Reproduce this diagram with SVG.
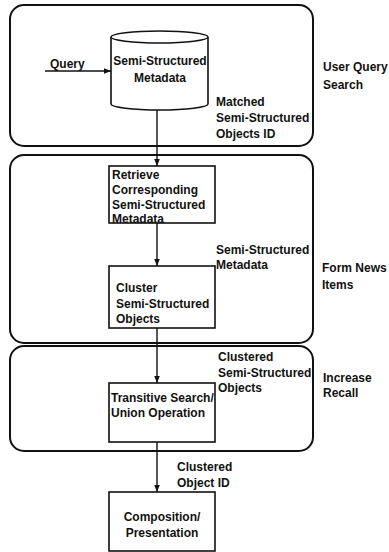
<svg xmlns="http://www.w3.org/2000/svg" width="389" height="552" viewBox="0 0 389 552">
<defs>
<style>
text{font-family:"Liberation Sans",Arial,sans-serif;font-weight:bold;font-size:12px;fill:#111}
.grp{fill:none;stroke:#111;stroke-width:2}
.box{fill:#fff;stroke:#111;stroke-width:1.6}
.edge{stroke:#111;stroke-width:1.4;fill:none}
</style>
<marker id="ah" viewBox="0 0 10 10" refX="10" refY="5" markerWidth="7" markerHeight="7" markerUnits="userSpaceOnUse" orient="auto">
<path d="M0,1 L10,5 L0,9 Z" fill="#111"/>
</marker>
</defs>
<rect width="389" height="552" fill="#fff"/>
<g id="stage-user-query">
<rect class="grp" x="10" y="5" width="303" height="141" rx="14"/>
<text x="323" y="71">User Query</text>
<text x="323" y="89">Search</text>
</g>
<g id="stage-form-news">
<rect class="grp" x="10" y="155" width="303" height="188" rx="14"/>
<text x="322" y="272">Form News</text>
<text x="322" y="289">Items</text>
</g>
<g id="stage-increase-recall">
<rect class="grp" x="10" y="346" width="303" height="105" rx="14"/>
<text x="323" y="382">Increase</text>
<text x="323" y="397">Recall</text>
</g>
<g id="metadata-store">
<path class="box" d="M111,37 L111,104 A48.5,6 0 0 0 208,104 L208,37"/>
<ellipse class="box" cx="159.5" cy="37" rx="48.5" ry="6"/>
<text x="160" y="65" text-anchor="middle">Semi-Structured</text>
<text x="160" y="82" text-anchor="middle">Metadata</text>
</g>
<g id="retrieve">
<rect class="box" x="109" y="166" width="106" height="57"/>
<text x="112" y="179">Retrieve</text>
<text x="112" y="194">Corresponding</text>
<text x="112" y="209">Semi-Structured</text>
<text x="112" y="223">Metadata</text>
</g>
<g id="cluster">
<rect class="box" x="109" y="266" width="106" height="62"/>
<text x="116" y="292">Cluster</text>
<text x="116" y="308">Semi-Structured</text>
<text x="116" y="323">Objects</text>
</g>
<g id="transitive">
<rect class="box" x="109" y="383" width="106" height="59"/>
<text x="111" y="402">Transitive Search/</text>
<text x="111" y="417">Union Operation</text>
</g>
<g id="composition">
<rect class="box" x="109" y="492" width="106" height="59"/>
<text x="162" y="521" text-anchor="middle">Composition/</text>
<text x="162" y="537" text-anchor="middle">Presentation</text>
</g>
<g id="connectors">
<text x="50" y="68">Query</text>
<line class="edge" x1="45" y1="71" x2="111" y2="71" marker-end="url(#ah)"/>
<line class="edge" x1="157" y1="110" x2="157" y2="166" marker-end="url(#ah)"/>
<text x="216" y="106">Matched</text>
<text x="216" y="122">Semi-Structured</text>
<text x="216" y="138">Objects ID</text>
<line class="edge" x1="157" y1="223" x2="157" y2="266" marker-end="url(#ah)"/>
<text x="216" y="254">Semi-Structured</text>
<text x="216" y="269">Metadata</text>
<line class="edge" x1="157" y1="328" x2="157" y2="383" marker-end="url(#ah)"/>
<text x="218" y="361">Clustered</text>
<text x="218" y="377">Semi-Structured</text>
<text x="218" y="392">Objects</text>
<line class="edge" x1="157" y1="442" x2="157" y2="492" marker-end="url(#ah)"/>
<text x="177" y="471">Clustered</text>
<text x="177" y="487">Object ID</text>
</g>
</svg>
